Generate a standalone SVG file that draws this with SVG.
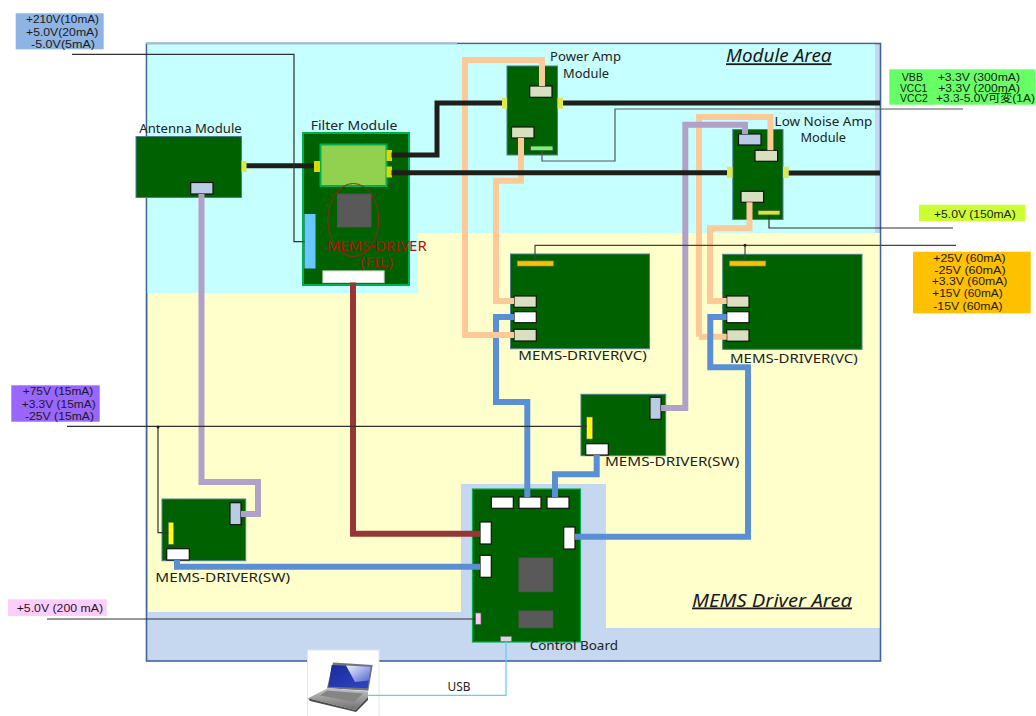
<svg xmlns="http://www.w3.org/2000/svg" width="1036" height="716" viewBox="0 0 1036 716">
<style>
text{font-family:"Noto Sans","Liberation Sans","Noto Sans CJK JP",sans-serif;font-size:13px;fill:#222}
.v{font-family:"Liberation Sans","Noto Sans CJK JP",sans-serif;font-size:11.500px;fill:#1a1a1a}
.a{font-size:18px;font-style:italic;text-decoration:underline;fill:#1a1a1a}
.r{fill:#b01010;font-size:14px}
.b{fill:#006100;stroke:#4f7f8f;stroke-width:1}
.f{fill:#006100;stroke:#00b050;stroke-width:2}
.c{fill:#d8e0bf;stroke:#111;stroke-width:1.2}
.w{fill:#fff;stroke:#111;stroke-width:1.2}
.l{fill:#b8cce4;stroke:#111;stroke-width:1.2}
.t{fill:#dde84a}
.y{fill:#d9d900}
.i{fill:#595959;stroke:#555;stroke-width:1}
.o{fill:#ffc000;stroke:#8a8a60;stroke-width:.7}
path{fill:none;stroke-linejoin:miter}
.pe{stroke:#fcc999;stroke-width:6}
.la{stroke:#b1a0c7;stroke-width:6}
.bl{stroke:#5b8fd5;stroke-width:6}
.br{stroke:#953735;stroke-width:6}
.bk{stroke:#1f1f1a;stroke-width:5}
.th{stroke:#303030;stroke-width:1.2}
.us{stroke:#66ccee;stroke-width:1.2}
</style>
<defs>
<linearGradient id="scr" x1="0" y1="0" x2="1" y2="1"><stop offset="0" stop-color="#1a2a9c"/><stop offset="1" stop-color="#3146c4"/></linearGradient>
<linearGradient id="hl" x1="0" y1="0" x2="1" y2="1"><stop offset="0" stop-color="#f2f4ff"/><stop offset="1" stop-color="#5064cc"/></linearGradient>
<linearGradient id="bas" x1="0" y1="0" x2="0" y2="1"><stop offset="0" stop-color="#c4c4c4"/><stop offset="1" stop-color="#707070"/></linearGradient>
</defs>
<rect width="1036" height="716" fill="#fff"/>
<g id="frame">
<rect x="146.500" y="43.500" width="734" height="617.500" fill="#c5d8ef" stroke="#3f659a" stroke-width="1.600"/>
<rect x="147.500" y="44.300" width="727.500" height="189.200" fill="#c6ffff"/>
<rect x="147.500" y="233" width="270.500" height="60" fill="#c6ffff"/>
<path d="M146 43.300H457" style="stroke:#9dbbdf;stroke-width:1.800"/>
<polygon points="148,293 418,293 418,233 879.500,233 879.500,628 606,628 606,484 461,484 461,612 148,612" fill="#ffffcc"/>
</g>
<g id="antenna-module">
<rect class="b" x="136" y="136.500" width="105.500" height="61"/>
<rect class="t" x="241.500" y="161" width="5" height="11"/>
<rect class="l" x="190.700" y="182.500" width="22.300" height="11.500"/>
<text x="139.300" y="133.300" textLength="102.400" lengthAdjust="spacingAndGlyphs">Antenna Module</text>
</g>
<g id="filter-module">
<rect class="f" x="303" y="133" width="106" height="152"/>
<rect x="320.500" y="144.500" width="66" height="41.500" fill="#92d050" stroke="#00b050" stroke-width="2"/>
<rect class="y" x="314" y="161" width="6" height="11"/>
<rect class="y" x="386.500" y="150" width="5.500" height="11"/>
<rect class="y" x="386.500" y="166.500" width="5.500" height="11"/>
<rect class="i" x="337.500" y="194" width="33.500" height="33"/>
<ellipse cx="353.300" cy="220" rx="25.500" ry="36.500" fill="none" stroke="#a02020" stroke-width="1"/>
<rect x="304.500" y="214" width="11" height="54.500" fill="#66c8ff"/>
<rect class="w" x="323" y="271" width="61" height="11.500" style="stroke:#ddd"/>
<text class="r" x="326.700" y="250.700" textLength="100" lengthAdjust="spacingAndGlyphs">MEMS-DRIVER</text>
<text class="r" x="360" y="267" textLength="33" lengthAdjust="spacingAndGlyphs">(FIL)</text>
<text x="310.700" y="130" textLength="86.600" lengthAdjust="spacingAndGlyphs">Filter Module</text>
</g>
<g id="power-amp-module">
<rect class="b" x="507" y="66" width="50.500" height="89"/>
<rect class="t" x="502" y="97.700" width="5" height="11"/>
<rect class="t" x="557.500" y="97.700" width="5.500" height="11"/>
<rect class="c" x="529.700" y="86" width="22.300" height="11.300"/>
<rect class="c" x="511.500" y="127" width="22.500" height="11"/>
<rect x="530.500" y="146" width="22.500" height="4.700" fill="#66ff66" stroke="#444" stroke-width=".8"/>
<text x="550" y="60.700" textLength="71" lengthAdjust="spacingAndGlyphs">Power Amp</text>
<text x="563" y="78" textLength="46" lengthAdjust="spacingAndGlyphs">Module</text>
</g>
<g id="lna-module">
<rect class="b" x="732.800" y="129.500" width="50.200" height="90"/>
<rect class="t" x="727" y="166.700" width="5.500" height="11.300"/>
<rect class="t" x="783" y="166.700" width="5.700" height="11.300"/>
<rect class="l" x="738.500" y="134" width="22.500" height="11"/>
<rect class="c" x="755" y="150.300" width="22.600" height="11"/>
<rect class="c" x="741" y="191.300" width="22.600" height="11"/>
<rect x="758" y="210.300" width="22" height="4.700" fill="#c6ef2a" stroke="#444" stroke-width=".8"/>
<text x="774.600" y="125.700" textLength="97.700" lengthAdjust="spacingAndGlyphs">Low Noise Amp</text>
<text x="800.500" y="141.700" textLength="45.500" lengthAdjust="spacingAndGlyphs">Module</text>
</g>
<g id="mems-driver-vc-1">
<rect class="b" x="510.500" y="254" width="139" height="94.700"/>
<rect class="o" x="517.300" y="261" width="36" height="5"/>
<rect class="c" x="514" y="296" width="22.300" height="11.300"/>
<rect class="w" x="514" y="311.700" width="22.300" height="11"/>
<rect class="c" x="514" y="329.300" width="22.300" height="11.700"/>
<text x="518.300" y="360" textLength="128.400" lengthAdjust="spacingAndGlyphs">MEMS-DRIVER(VC)</text>
</g>
<g id="mems-driver-vc-2">
<rect class="b" x="722.700" y="254.300" width="139.300" height="95"/>
<rect class="o" x="729.700" y="261" width="36" height="5"/>
<rect class="c" x="726.700" y="296" width="22.300" height="11.300"/>
<rect class="w" x="726.700" y="311.700" width="22.300" height="11"/>
<rect class="c" x="726.700" y="329.700" width="22.300" height="11.500"/>
<text x="730" y="362.700" textLength="127.700" lengthAdjust="spacingAndGlyphs">MEMS-DRIVER(VC)</text>
</g>
<g id="mems-driver-sw-1">
<rect class="b" x="581" y="394.300" width="84.700" height="61.400"/>
<rect class="l" x="650" y="397.300" width="11" height="22"/>
<rect x="586.700" y="417" width="6" height="22" fill="#ffff00" stroke="#667" stroke-width=".6"/>
<rect class="w" x="585.700" y="443.700" width="22.600" height="11.300"/>
<text x="605" y="466" textLength="134.300" lengthAdjust="spacingAndGlyphs">MEMS-DRIVER(SW)</text>
</g>
<g id="mems-driver-sw-2">
<rect class="b" x="162" y="499" width="83.700" height="61.700"/>
<rect class="l" x="230" y="502.700" width="11" height="22"/>
<rect x="168.300" y="522.300" width="5.400" height="22" fill="#ffff00" stroke="#667" stroke-width=".6"/>
<rect class="w" x="166.700" y="548.700" width="22.600" height="11.300"/>
<text x="155.300" y="581.700" textLength="134.700" lengthAdjust="spacingAndGlyphs">MEMS-DRIVER(SW)</text>
</g>
<g id="control-board">
<rect x="472.500" y="489" width="108" height="153" fill="#006100" stroke="#00b050" stroke-width="1.200"/>
<rect class="w" x="491.300" y="497" width="22" height="11.300"/>
<rect class="w" x="519" y="497" width="22" height="11.300"/>
<rect class="w" x="547" y="497" width="22" height="11.300"/>
<rect class="w" x="480" y="522" width="11.300" height="22"/>
<rect class="w" x="480" y="555.300" width="11.300" height="22"/>
<rect class="w" x="563.700" y="527" width="11.300" height="22"/>
<rect class="i" x="519" y="558" width="33.700" height="33.700"/>
<rect class="i" x="519" y="611" width="33.700" height="16.700"/>
<rect x="475.500" y="613" width="5.500" height="11.300" fill="#ffc8f5" stroke="#667" stroke-width=".7"/>
<rect x="500.500" y="636.300" width="11.200" height="5.400" fill="#d9d9d9" stroke="#667" stroke-width=".7"/>
<text x="529.700" y="650.300" textLength="88.300" lengthAdjust="spacingAndGlyphs">Control Board</text>
</g>
<g id="laptop">
<rect x="307.500" y="650" width="71.500" height="70" fill="#fff" stroke="#e6e6e6" stroke-width="1"/>
<polygon points="333,662.500 372.700,665 368.300,690.700 327,688.300" fill="#70757e"/>
<polygon points="331.700,665 370.700,666.700 367.700,688.300 328.300,686.700" fill="url(#scr)"/>
<polygon points="346,665.600 370.700,666.700 368.800,680.500 355,682" fill="url(#hl)"/>
<polygon points="328,688 368,691.500 368,697 355,710 308,698.300" fill="url(#bas)"/>
<polygon points="327,690.500 363,693.500 354,702 320,695.500" fill="#858585"/>
<polygon points="308,698.300 355,710 368,697 368,700 356,712 310,701" fill="#4d4d4d"/>
</g>
<g id="connectors">
<path class="pe" d="M699 336.700H726.700M770.400 150.300V117H699V336.700"/>
<path class="pe" d="M749.500 202.300V228.300H710V301H726.700"/>
<path class="pe" d="M521 138V180.700H496V301H514"/>
<path class="la" d="M201.500 194V482H258V514H241"/>
<path class="la" d="M661 408H685.300V124.700H745V134"/>
<path class="bl" d="M726.700 317H710.300V367.300H748V536.700H575"/>
<path class="bl" d="M514 317H496V402H527.300V497"/>
<path class="bl" d="M596.700 455V474.300H555V497"/>
<path class="bl" d="M177 560V566.700H480"/>
<path class="pe" d="M542 86V60H465V335H514"/>
<path class="br" d="M353 282.500V533.700H480"/>
<path class="bk" d="M246.500 165.700H314"/>
<path class="bk" d="M391.500 155H437V103H502"/>
<path class="bk" d="M563 103H880"/>
<path class="bk" d="M391.500 172.700H727"/>
<path class="bk" d="M788.700 173H880"/>
<path class="th" d="M72 54.300H294V241.700H304.500"/>
<path class="th" d="M542 150.700V161H615V109H963" style="stroke:#555"/>
<path class="th" d="M769 215V228H953"/>
<path class="th" d="M535 261V245.300H956M745 245.300V261" style="stroke:#444"/>
<circle cx="745" cy="245.300" r="1.500" fill="#222"/>
<path class="th" d="M67 426.300H586.700"/>
<path class="th" d="M158 426.300V532.700H168.300"/>
<circle cx="158" cy="427" r="1.500" fill="#222"/>
<path class="th" d="M47 619H475.500"/>
<path class="us" d="M506 641.700V695.300H368"/>
</g>
<text x="447.500" y="691" textLength="23" lengthAdjust="spacingAndGlyphs" style="font-size:12px">USB</text>
<g id="label-module-area"><text class="a" x="726" y="62.300" textLength="105.600" lengthAdjust="spacingAndGlyphs">Module Area</text></g>
<g id="label-driver-area"><text class="a" x="692" y="606.500" textLength="160" lengthAdjust="spacingAndGlyphs">MEMS Driver Area</text></g>
<g id="supply-blue">
<rect x="15.700" y="13.300" width="88" height="36" fill="#8eb4e3"/>
<text class="v" x="26" y="23.300" textLength="73" lengthAdjust="spacingAndGlyphs">+210V(10mA)</text>
<text class="v" x="26" y="35.700" textLength="72.300" lengthAdjust="spacingAndGlyphs">+5.0V(20mA)</text>
<text class="v" x="31" y="47.700" textLength="64" lengthAdjust="spacingAndGlyphs">-5.0V(5mA)</text>
</g>
<g id="supply-purple">
<rect x="11.300" y="385.300" width="88.400" height="36.400" fill="#9966ff"/>
<text class="v" x="22.700" y="395.300" textLength="70.600" lengthAdjust="spacingAndGlyphs">+75V (15mA)</text>
<text class="v" x="21.700" y="407.700" textLength="74" lengthAdjust="spacingAndGlyphs">+3.3V (15mA)</text>
<text class="v" x="25" y="420" textLength="69" lengthAdjust="spacingAndGlyphs">-25V (15mA)</text>
</g>
<g id="supply-pink">
<rect x="8" y="599.300" width="98.700" height="16.700" fill="#ffccff"/>
<text class="v" x="16.700" y="612" textLength="86.300" lengthAdjust="spacingAndGlyphs">+5.0V (200 mA)</text>
</g>
<g id="supply-green">
<rect x="889.300" y="69.300" width="146" height="35.400" fill="#66ff66"/>
<text class="v" x="901.700" y="80.700" textLength="21.300" lengthAdjust="spacingAndGlyphs">VBB</text>
<text class="v" x="937.700" y="80.700" textLength="82.300" lengthAdjust="spacingAndGlyphs">+3.3V (300mA)</text>
<text class="v" x="900" y="91.700" textLength="27.300" lengthAdjust="spacingAndGlyphs">VCC1</text>
<text class="v" x="938.300" y="91.700" textLength="81.700" lengthAdjust="spacingAndGlyphs">+3.3V (200mA)</text>
<text class="v" x="900" y="102.300" textLength="27.700" lengthAdjust="spacingAndGlyphs">VCC2</text>
<text class="v" x="936" y="102.300" textLength="99" lengthAdjust="spacingAndGlyphs">+3.3-5.0V可変(1A)</text>
</g>
<g id="supply-lime">
<rect x="919" y="204.700" width="106.300" height="16.300" fill="#ccff33"/>
<text class="v" x="934" y="217.700" textLength="81.700" lengthAdjust="spacingAndGlyphs">+5.0V (150mA)</text>
</g>
<g id="supply-orange">
<rect x="913" y="251.700" width="117.700" height="61.600" fill="#ffc000"/>
<text class="v" x="933.300" y="261.700" textLength="72.400" lengthAdjust="spacingAndGlyphs">+25V (60mA)</text>
<text class="v" x="934.300" y="273.700" textLength="71.400" lengthAdjust="spacingAndGlyphs">-25V (60mA)</text>
<text class="v" x="931.700" y="285" textLength="75.700" lengthAdjust="spacingAndGlyphs">+3.3V (60mA)</text>
<text class="v" x="932.300" y="296.700" textLength="70.400" lengthAdjust="spacingAndGlyphs">+15V (60mA)</text>
<text class="v" x="933.300" y="310" textLength="69.400" lengthAdjust="spacingAndGlyphs">-15V (60mA)</text>
</g>
</svg>
